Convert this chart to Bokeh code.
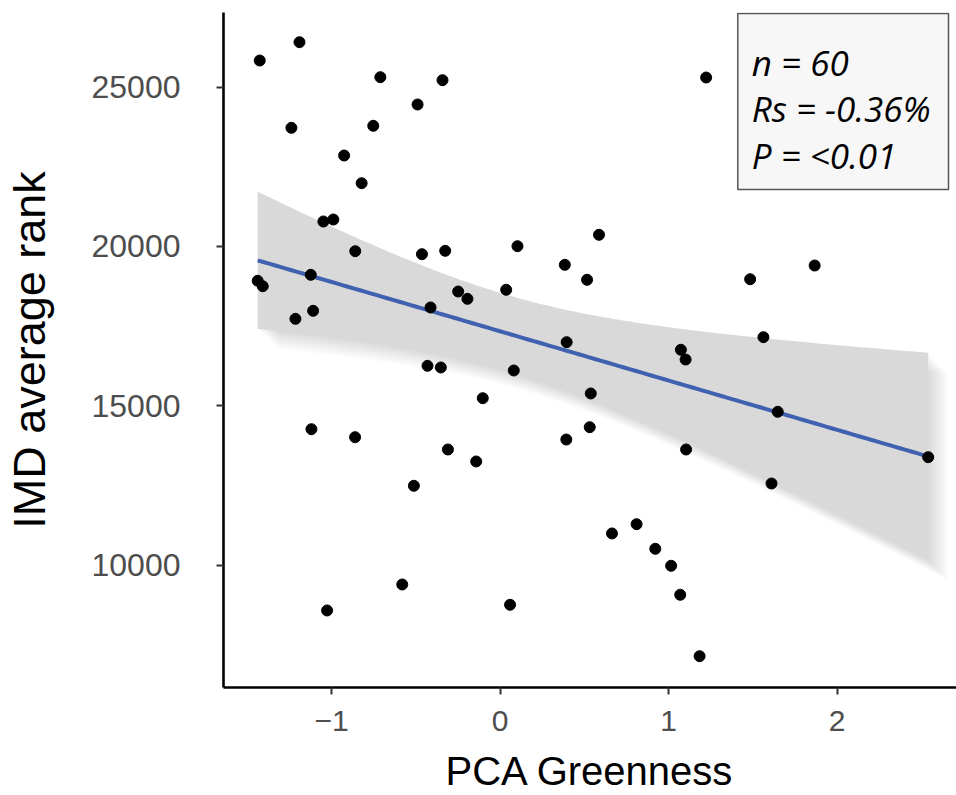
import numpy as np
from bokeh.plotting import figure
from bokeh.models import Range1d, FixedTicker
from bokeh.core.properties import value
from bokeh.embed import file_html
from bokeh.resources import INLINE

# PCA Greenness (x) and IMD average rank (y)
# (the last point lies hidden behind the statistics box: n = 60, 59 visible)
pca_greenness = [
    -1.427, -1.191, -0.711, -0.342, -0.490, -1.239, -0.753, -0.926, -0.822, -1.049,
    -0.990, -0.860, -0.464, -0.326, 0.103, 0.384, -1.439, -1.409, -1.124, -1.215,
    -1.110, -0.249, -0.194, -0.413, 0.036, 0.395, 1.223, 0.587, 0.516, 1.484,
    1.867, 1.563, 1.073, 1.101, 0.538, 0.532, 0.393, 1.648, 1.104, 2.541,
    1.611, 0.810, 0.664, 0.921, 1.015, 1.069, 1.184, -0.431, -0.352, 0.081,
    -0.103, -1.120, -0.861, -0.310, -0.142, -0.512, -0.581, -1.027, 0.059,
    2.000,
]
imd_rank = [
    25831, 26405, 25308, 25214, 24452, 23721, 23784, 22853, 21984, 20784,
    20846, 19853, 19759, 19865, 20009, 19426, 18925, 18755, 19113, 17733,
    17984, 18589, 18360, 18088, 18643, 17000, 25298, 20367, 18956, 18975,
    19404, 17157, 16762, 16457, 15392, 14335, 13949, 14818, 13636, 13395,
    12570, 11294, 11003, 10523, 9990, 9081, 7156, 16260, 16207, 16113,
    15244, 14272, 14022, 13636, 13260, 12498, 9404, 8589, 8767,
    24900,
]

x_ticks = [-1, 0, 1, 2]
x_tick_labels = ["\u22121", "0", "1", "2"]
y_ticks = [10000, 15000, 20000, 25000]
y_tick_labels = ["10000", "15000", "20000", "25000"]

stats_lines = ["n = 60", "Rs = -0.36%", "P = <0.01"]
x_title = "PCA Greenness"
y_title = "IMD average rank"

# linear fit with 95% confidence band (as geom_smooth(method = "lm"))
X = np.array(pca_greenness, dtype=float)
Y = np.array(imd_rank, dtype=float)
n = len(X)
b1, b0 = np.polyfit(X, Y, 1)
xs = np.linspace(X.min(), X.max(), 120)
fit = b0 + b1 * xs
res = Y - (b0 + b1 * X)
s = np.sqrt(np.sum(res ** 2) / (n - 2))
sxx = np.sum((X - X.mean()) ** 2)
se = s * np.sqrt(1.0 / n + (xs - X.mean()) ** 2 / sxx)
t_crit = 2.0017
upper = fit + t_crit * se
lower = fit - t_crit * se

W, H = 956, 795
x0, x1 = -1.642, 2.709
y0, y1 = 6174, 27336
px_x = 168.7            # pixels per x unit
px_y = 159.5 / 5000.0   # pixels per y unit

p = figure(width=W, height=H, output_backend="svg", toolbar_location=None,
           x_range=Range1d(x0, x1), y_range=Range1d(y0, y1),
           min_border_left=222, min_border_top=12, min_border_right=0,
           min_border_bottom=108)
p.outline_line_color = None
p.background_fill_color = "white"
p.border_fill_color = "white"
p.xgrid.grid_line_color = None
p.ygrid.grid_line_color = None

# soft shadow under the confidence band
for k in range(1, 13):
    dx = k * 1.7 / px_x
    dy = k * 1.7 / px_y
    p.varea(x=xs + dx, y1=lower - dy, y2=upper - dy, fill_color="#000000",
            fill_alpha=0.012)

p.varea(x=xs, y1=lower, y2=upper, fill_color="#d9d9d9", fill_alpha=1.0)
p.line(xs, fit, line_color="#3f61b0", line_width=4)
p.scatter(pca_greenness, imd_rank, size=11, fill_color="black", line_color="black")

# statistics box
box_left = (737 - 499) / px_x
box_right = (948 - 499) / px_x
box_top = y1 - 1.0 / px_y
box_bottom = 20000 + (246 - 189) / px_y
p.quad(left=[box_left], right=[box_right], top=[box_top], bottom=[box_bottom],
       fill_color="#f7f7f7", line_color="#555555", line_width=1.5)

text_x = [(751 - 499) / px_x] * 3
text_y = [20000 + (246 - 62) / px_y, 20000 + (246 - 108) / px_y, 20000 + (246 - 155) / px_y]
p.text(x=text_x, y=text_y, text=stats_lines, text_font=value("Open Sans"),
       text_font_style="italic", text_font_size="35px", text_color="black",
       text_baseline="alphabetic", text_align="left")

for ax in (p.xaxis[0], p.yaxis[0]):
    ax.axis_line_color = "black"
    ax.axis_line_width = 2.6
    ax.major_tick_line_color = "#333333"
    ax.major_tick_line_width = 2
    ax.major_tick_out = 7
    ax.major_tick_in = 0
    ax.minor_tick_line_color = None
    ax.major_label_text_font = "Liberation Sans"
    ax.major_label_text_color = "#4d4d4d"
    ax.axis_label_text_font = "Liberation Sans"
    ax.axis_label_text_font_style = "normal"
    ax.axis_label_text_color = "black"

p.xaxis.ticker = FixedTicker(ticks=x_ticks)
p.xaxis.major_label_overrides = dict(zip(x_ticks, x_tick_labels))
p.yaxis.ticker = FixedTicker(ticks=y_ticks)
p.yaxis.major_label_overrides = dict(zip(y_ticks, y_tick_labels))
p.xaxis.axis_label = x_title
p.yaxis.axis_label = y_title
p.xaxis.major_label_text_font_size = "30px"
p.yaxis.major_label_text_font_size = "32px"
p.xaxis.axis_label_text_font_size = "40px"
p.yaxis.axis_label_text_font_size = "45px"
p.xaxis.major_label_standoff = 16
p.xaxis.axis_label_standoff = 15
p.yaxis.major_label_standoff = 36
p.yaxis.axis_label_standoff = 34

open("out.html", "w").write(file_html(p, INLINE))
